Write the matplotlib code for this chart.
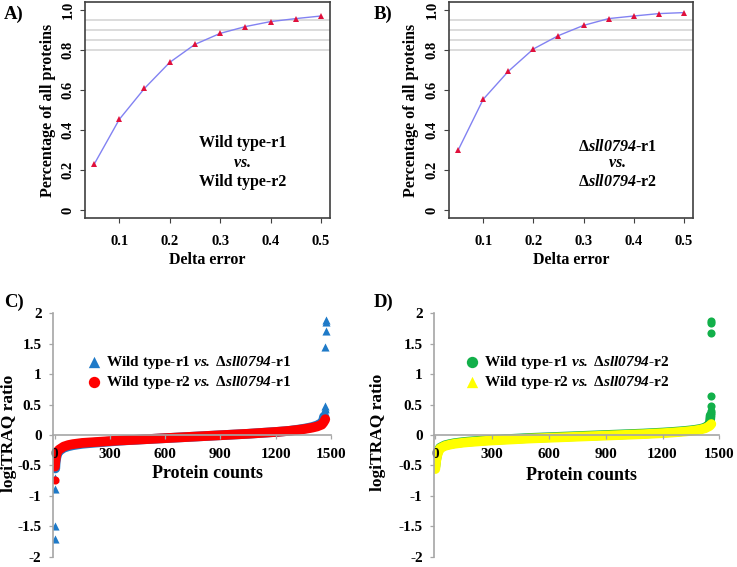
import numpy as np
import matplotlib
matplotlib.use("Agg")
import matplotlib.pyplot as plt

plt.rcParams['font.family'] = ['Liberation Serif', 'DejaVu Serif']
plt.rcParams['font.weight'] = 'bold'
plt.rcParams['mathtext.fontset'] = 'custom'
# everything written in $...$ is bold italic (digits included)
plt.rcParams['mathtext.rm'] = 'Liberation Serif:italic:bold'
plt.rcParams['mathtext.it'] = 'Liberation Serif:italic:bold'
plt.rcParams['mathtext.bf'] = 'Liberation Serif:italic:bold'

# ---- panels A and B: cumulative fraction vs delta error ----
delta_err = [0.05, 0.10, 0.15, 0.20, 0.25, 0.30, 0.35, 0.40, 0.45, 0.50]
frac_a = [0.228, 0.453, 0.608, 0.738, 0.828, 0.883, 0.917, 0.942, 0.957, 0.970]
frac_b = [0.298, 0.553, 0.693, 0.805, 0.872, 0.923, 0.957, 0.970, 0.982, 0.987]
grid_levels = [0.80, 0.85, 0.90, 0.95]
yticks_ab = [0, 0.2, 0.4, 0.6, 0.8, 1.0]
ytick_lab_ab = ['0', '0.2', '0.4', '0.6', '0.8', '1.0']
xticks_ab = [0.1, 0.2, 0.3, 0.4, 0.5]

# ---- panels C and D: sorted log iTRAQ ratios ----
# main band, one value read every 25 proteins (rank 25, 50, ..., 1450)
band_step = 25
c_blue = [-0.26, -0.21, -0.185, -0.168, -0.156, -0.145, -0.138, -0.131, -0.125,
          -0.119, -0.113, -0.107, -0.101, -0.095, -0.09, -0.085, -0.081, -0.077,
          -0.072, -0.068, -0.064, -0.06, -0.056, -0.052, -0.048, -0.044, -0.04, -0.036,
          -0.032, -0.028, -0.024, -0.02, -0.016, -0.012, -0.008, -0.004, 0.0, 0.004,
          0.008, 0.012, 0.016, 0.02, 0.025, 0.03, 0.035, 0.04, 0.045, 0.05, 0.056,
          0.062, 0.069, 0.08, 0.09, 0.102, 0.116, 0.133, 0.158, 0.2]
c_red = [-0.24, -0.19, -0.165, -0.15, -0.14, -0.13, -0.125, -0.12, -0.115,
         -0.11, -0.105, -0.10, -0.095, -0.09, -0.087, -0.083, -0.08, -0.076, -0.072,
         -0.068, -0.064, -0.06, -0.056, -0.052, -0.048, -0.044, -0.04, -0.036, -0.032,
         -0.028, -0.024, -0.02, -0.016, -0.012, -0.008, -0.004, 0.0, 0.004, 0.008,
         0.012, 0.016, 0.02, 0.025, 0.03, 0.035, 0.04, 0.045, 0.05, 0.056,
         0.062, 0.069, 0.077, 0.086, 0.096, 0.108, 0.122, 0.14, 0.17]
d_green = [-0.21, -0.17, -0.15, -0.135, -0.125, -0.115, -0.108, -0.102, -0.096,
           -0.09, -0.085, -0.08, -0.076, -0.072, -0.068, -0.064, -0.06, -0.056, -0.052,
           -0.048, -0.045, -0.042, -0.039, -0.036, -0.033, -0.03, -0.027, -0.024, -0.021,
           -0.018, -0.015, -0.012, -0.009, -0.006, -0.003, 0.0, 0.003, 0.006, 0.009,
           0.012, 0.015, 0.018, 0.021, 0.024, 0.028, 0.032, 0.036, 0.04, 0.045,
           0.05, 0.056, 0.062, 0.069, 0.077, 0.087, 0.1, 0.122, 0.18]
d_yellow = [-0.22, -0.18, -0.16, -0.145, -0.135, -0.125, -0.118, -0.112, -0.106,
            -0.10, -0.095, -0.09, -0.086, -0.082, -0.078, -0.074, -0.07, -0.066, -0.062,
            -0.058, -0.055, -0.052, -0.049, -0.046, -0.043, -0.04, -0.037, -0.034, -0.031,
            -0.028, -0.025, -0.022, -0.019, -0.016, -0.013, -0.01, -0.007, -0.004, -0.001,
            0.002, 0.005, 0.008, 0.011, 0.014, 0.018, 0.022, 0.026, 0.03, 0.035,
            0.04, 0.046, 0.052, 0.059, 0.067, 0.077, 0.09, 0.11, 0.15]

# steep tails joined to the band (rank, value)
c_blue_low_r, c_blue_low_v = [4, 6, 10, 15], [-0.55, -0.45, -0.37, -0.31]
c_blue_high_r, c_blue_high_v = [1455, 1459, 1462], [0.22, 0.26, 0.30]
c_red_low_r, c_red_low_v = [2, 5, 9, 14, 19], [-0.52, -0.42, -0.34, -0.29, -0.26]
c_red_high_r, c_red_high_v = [1458, 1462, 1466, 1469], [0.20, 0.22, 0.24, 0.26]
d_green_low_r, d_green_low_v = [0, 3, 8, 14], [-0.52, -0.44, -0.34, -0.27]
d_green_high_r, d_green_high_v = [1452, 1454], [0.26, 0.32]
d_yellow_low_r, d_yellow_low_v = [0, 2, 5, 9, 14, 19], [-0.56, -0.50, -0.42, -0.35, -0.30, -0.26]
d_yellow_high_r, d_yellow_high_v = [1455, 1458], [0.17, 0.18]

# isolated points standing off the band
c_blue_out_r = [0, 1, 2, 3, 1464, 1466, 1467, 1468, 1469, 1470, 1471, 1472, 1473]
c_blue_out_v = [-1.71, -1.50, -0.88, -0.70, 0.34, 0.38, 0.42, 0.45, 0.48, 1.45, 1.71, 1.85, 1.89]
c_red_out_r, c_red_out_v = [0], [-0.74]
d_green_out_r = [1455, 1455, 1456, 1456, 1457, 1457, 1458]
d_green_out_v = [0.36, 0.40, 0.48, 0.64, 1.67, 1.84, 1.88]
d_yellow_out_r, d_yellow_out_v = [], []

yticks_cd = [-2, -1.5, -1, -0.5, 0, 0.5, 1, 1.5, 2]
ytick_lab_cd = ['-2', '-1.5', '-1', '-0.5', '0', '0.5', '1', '1.5', '2']
xticks_cd = [0, 300, 600, 900, 1200, 1500]

W, H = 737, 567
fig = plt.figure(figsize=(W / 100, H / 100), dpi=100)


def px_axes(left, top, right, bottom):
    return fig.add_axes([left / W, 1 - bottom / H, (right - left) / W, (bottom - top) / H])


def curve_panel(ax, yvals, ylab_x):
    for g in grid_levels:
        ax.axhline(g, color='#d9d9d9', lw=1.3, zorder=0)
    ax.plot(delta_err, yvals, color='#8282f2', lw=1.0, zorder=2)
    ax.plot(delta_err, yvals, ls='none', marker='^', ms=4, color='#e0103c',
            markeredgewidth=0, zorder=3)
    ax.set_xlim(0.032, 0.518)
    ax.set_ylim(-0.04, 1.04)
    ax.set_yticks(yticks_ab)
    ax.set_yticklabels(ytick_lab_ab, rotation=90, va='center', fontsize=10.5)
    ax.set_xticks(xticks_ab)
    ax.set_xticklabels([str(t) for t in xticks_ab], fontsize=10.5)
    ax.tick_params(axis='y', length=3.5, width=0.8, pad=4, color='#404040')
    ax.tick_params(axis='x', length=3.5, width=0.8, pad=9, color='#404040')
    for s in ax.spines.values():
        s.set_color('#404040')
        s.set_linewidth(1.2)
    ax.text(0.5, -0.195, 'Delta error', transform=ax.transAxes, ha='center',
            va='center', fontsize=11.5)
    ax.text(ylab_x, 0.5, 'Percentage of all proteins', transform=ax.transAxes,
            ha='center', va='center', rotation=90, fontsize=11.5)


axA = px_axes(85, 2, 330, 218)
curve_panel(axA, frac_a, -0.151)
axA.text(0.344, 0.333, 'Wild type-r1', ha='center', va='center', fontsize=11.5)
axA.text(0.344, 0.233, r'$vs.$', ha='center', va='center', fontsize=11.5)
axA.text(0.345, 0.142, 'Wild type-r2', ha='center', va='center', fontsize=11.5)

axB = px_axes(449, 2, 693, 218)
curve_panel(axB, frac_b, -0.156)
axB.text(0.367, 0.317, r'Δ$sll0794$-r1', ha='center', va='center', fontsize=11.5)
axB.text(0.367, 0.233, r'$vs.$', ha='center', va='center', fontsize=11.5)
axB.text(0.367, 0.142, r'Δ$sll0794$-r2', ha='center', va='center', fontsize=11.5)


def ratio_panel(ax, xmin, series, lab_x, leg_anchor):
    handles = []
    for band, low, high, out, color, marker, label in series:
        ranks = band_step * (1 + np.arange(len(band)))
        xs = np.concatenate([low[0], ranks, high[0]])
        ys = np.concatenate([low[1], band, high[1]])
        # densely packed markers form a continuous band
        ax.plot(xs, ys, color=color, lw=7, solid_capstyle='round',
                solid_joinstyle='round', zorder=1)
        h = ax.scatter(out[0], out[1], s=34, marker=marker, color=color,
                       linewidths=0, zorder=1, label=label)
        handles.append(h)
    ax.set_xlim(xmin, 1500)
    ax.set_ylim(-2, 2)
    for k in ['top', 'right']:
        ax.spines[k].set_visible(False)
    ax.spines['bottom'].set_position(('data', 0))
    for k in ['left', 'bottom']:
        ax.spines[k].set_color('#a6a6a6')
        ax.spines[k].set_linewidth(1.2)
    ax.set_yticks(yticks_cd)
    ax.set_yticklabels(ytick_lab_cd, fontsize=11)
    ax.set_xticks(xticks_cd)
    ax.set_xticklabels([str(t) for t in xticks_cd], fontsize=11)
    ax.tick_params(axis='y', length=3, width=0.9, pad=5, color='#a6a6a6')
    ax.tick_params(axis='x', length=3, width=0.9, pad=6, color='#a6a6a6')
    ax.patch.set_visible(False)
    fig.text(lab_x[0] / W, 1 - lab_x[1] / H, 'Protein counts', ha='center',
             va='center', fontsize=13)
    fig.text(lab_x[2] / W, 1 - lab_x[3] / H, 'logiTRAQ ratio', ha='center',
             va='center', rotation=90, fontsize=12.5)
    ax.legend(handles=handles, loc='center left',
              bbox_to_anchor=(leg_anchor[0] / W, 1 - leg_anchor[1] / H),
              bbox_transform=fig.transFigure, frameon=False, fontsize=11,
              handletextpad=0.3, labelspacing=0.25, borderpad=0, borderaxespad=0,
              handlelength=1.0, markerscale=1.4, scatterpoints=1)


axC = px_axes(52.7, 313.3, 331, 556.7)
ratio_panel(axC, -10, [
    (c_blue, (c_blue_low_r, c_blue_low_v), (c_blue_high_r, c_blue_high_v),
     (c_blue_out_r, c_blue_out_v), '#1f7ac8', '^',
     r'Wild type-r1 $vs.$ Δ$sll0794$-r1'),
    (c_red, (c_red_low_r, c_red_low_v), (c_red_high_r, c_red_high_v),
     (c_red_out_r, c_red_out_v), '#ff0000', 'o',
     r'Wild type-r2 $vs.$ Δ$sll0794$-r1'),
], (208, 473, 9, 433), (86, 372.5))

axD = px_axes(433.8, 313.3, 719.3, 556.7)
ratio_panel(axD, -8, [
    (d_green, (d_green_low_r, d_green_low_v), (d_green_high_r, d_green_high_v),
     (d_green_out_r, d_green_out_v), '#12b04a', 'o',
     r'Wild type-r1 $vs.$ Δ$sll0794$-r2'),
    (d_yellow, (d_yellow_low_r, d_yellow_low_v), (d_yellow_high_r, d_yellow_high_v),
     (d_yellow_out_r, d_yellow_out_v), '#ffff00', '^',
     r'Wild type-r2 $vs.$ Δ$sll0794$-r2'),
], (581, 475, 378, 432), (464, 372.5))

for lab, x, y in [('A)', 14, 14), ('B)', 383, 14), ('C)', 14, 302), ('D)', 384, 302)]:
    fig.text(x / W, 1 - y / H, lab, ha='center', va='center', fontsize=13.5)

fig.savefig('out.png', dpi=100)
